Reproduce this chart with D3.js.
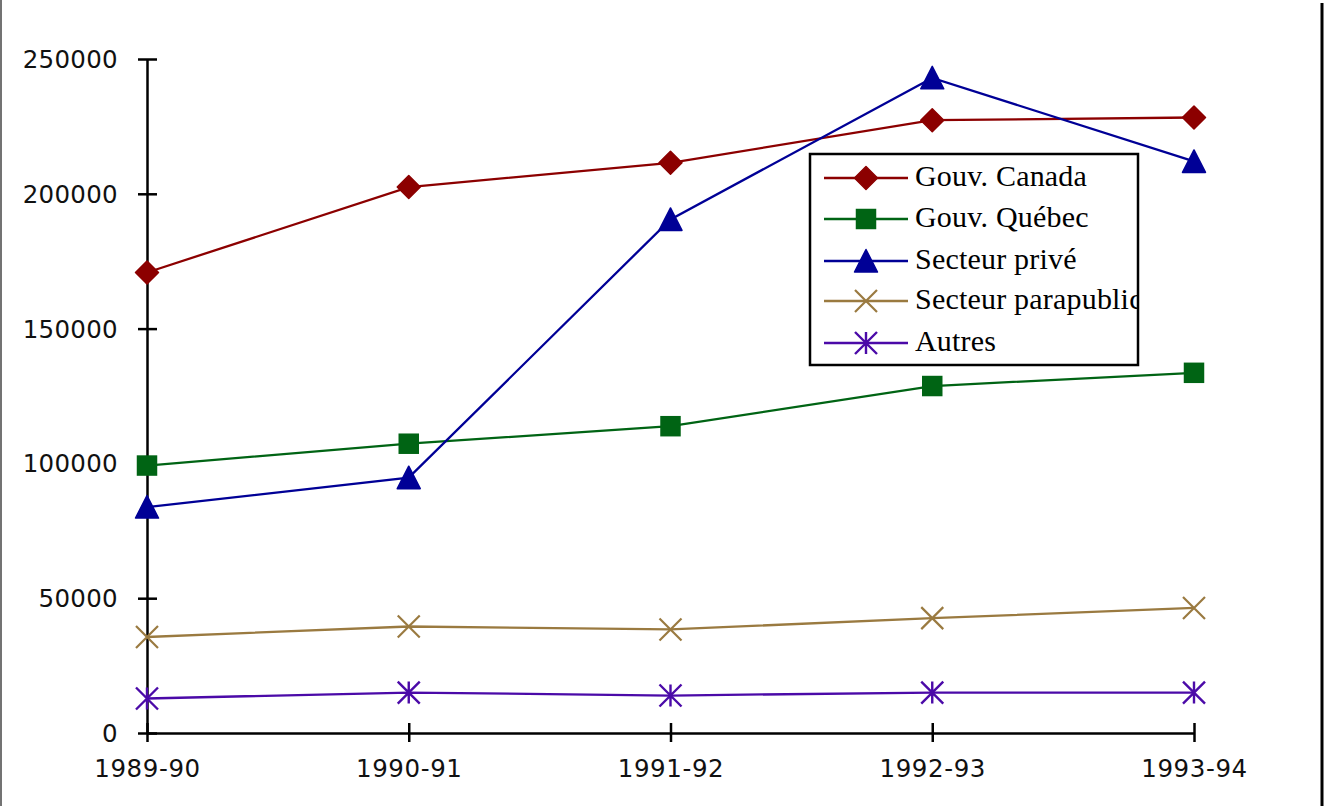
<!DOCTYPE html>
<html>
<head>
<meta charset="utf-8">
<script src="https://cdn.jsdelivr.net/npm/d3@7"></script>
<style>
  html, body { margin: 0; padding: 0; background: #fff; }
  svg { display: block; }
</style>
</head>
<body>
<svg id="chart" width="1325" height="806"></svg>
<script>
// ---- data ----
const categories = ["1989-90", "1990-91", "1991-92", "1992-93", "1993-94"];
const gouvCanada = [170800, 202500, 211500, 227300, 228300];
const gouvQuebec = [99200, 107300, 113800, 128700, 133600];
const secteurPrive = [83800, 94700, 190500, 243000, 212000];
const secteurParapublic = [35600, 39500, 38400, 42600, 46400];
const autres = [12800, 15000, 13900, 15000, 15000];
const yTicks = [0, 50000, 100000, 150000, 200000, 250000];
const seriesNames = ["Gouv. Canada", "Gouv. Québec", "Secteur privé", "Secteur parapublic", "Autres"];

const series = [
  { name: seriesNames[0], values: gouvCanada, color: "#8c0000", marker: "diamond" },
  { name: seriesNames[1], values: gouvQuebec, color: "#006414", marker: "square" },
  { name: seriesNames[2], values: secteurPrive, color: "#000096", marker: "triangle" },
  { name: seriesNames[3], values: secteurParapublic, color: "#9a7a40", marker: "cross" },
  { name: seriesNames[4], values: autres, color: "#4b0aa8", marker: "asterisk" }
];

const svg = d3.select("#chart");

// frame
svg.append("line").attr("x1", 1).attr("x2", 1).attr("y1", 0).attr("y2", 806)
  .attr("stroke", "#444").attr("stroke-width", 1.5);
svg.append("line").attr("x1", 1322).attr("x2", 1322).attr("y1", 3).attr("y2", 806)
  .attr("stroke", "#000").attr("stroke-width", 3);

const x = d3.scalePoint().domain(categories).range([147, 1194]);
const y = d3.scaleLinear().domain([0, 250000]).range([733, 59]);

const axisFont = "'DejaVu Sans', Verdana, sans-serif";

// y axis
const yAxis = svg.append("g").attr("transform", "translate(147,0)")
  .call(d3.axisLeft(y).tickValues(yTicks).tickFormat(d3.format("d")).tickSizeInner(9).tickSizeOuter(0).tickPadding(20));
yAxis.select(".domain").attr("stroke", "#000").attr("stroke-width", 2.5);
yAxis.selectAll(".tick line").attr("stroke", "#000").attr("stroke-width", 2.5).attr("x2", 10).attr("x1", -9);
yAxis.selectAll(".tick text").attr("font-family", axisFont).attr("font-size", 24.5).attr("fill", "#111")
  .attr("x", -29).attr("dy", "0.35em").attr("letter-spacing", 0.3);

// x axis
const xAxis = svg.append("g").attr("transform", "translate(0,733)")
  .call(d3.axisBottom(x).tickSizeInner(9).tickSizeOuter(0).tickPadding(20));
xAxis.select(".domain").attr("stroke", "#000").attr("stroke-width", 2.5);
xAxis.selectAll(".tick line").attr("stroke", "#000").attr("stroke-width", 2.5).attr("y1", -10).attr("y2", 9);
xAxis.selectAll(".tick text").attr("font-family", axisFont).attr("font-size", 24.5).attr("fill", "#111")
  .attr("y", 35).attr("dy", "0.35em").attr("letter-spacing", 0.6);

// markers
function drawMarker(g, type, color) {
  if (type === "diamond") {
    g.append("path").attr("d", d3.symbol().type(d3.symbolSquare).size(265)()).attr("transform", "rotate(45)")
      .attr("fill", color).attr("stroke", color).attr("stroke-width", 1.5).attr("stroke-linejoin", "round");
  } else if (type === "square") {
    g.append("path").attr("d", d3.symbol().type(d3.symbolSquare).size(420)()).attr("fill", color);
  } else if (type === "triangle") {
    g.append("path").attr("d", "M0,-11.5L11.5,11L-11.5,11Z").attr("fill", color)
      .attr("stroke", color).attr("stroke-width", 1.5).attr("stroke-linejoin", "round");
  } else if (type === "cross") {
    g.append("path").attr("d", "M-11,-11L11,11M-11,11L11,-11").attr("stroke", color).attr("stroke-width", 2.2).attr("fill", "none");
  } else if (type === "asterisk") {
    g.append("path").attr("d", "M-11,-11L11,11M-11,11L11,-11M0,-11L0,11").attr("stroke", color).attr("stroke-width", 2.4).attr("fill", "none");
  }
}

const line = d3.line().x((d, i) => x(categories[i])).y(d => y(d));

series.forEach(s => {
  svg.append("path").datum(s.values).attr("d", line)
    .attr("fill", "none").attr("stroke", s.color).attr("stroke-width", 2.3);
});
series.forEach(s => {
  s.values.forEach((v, i) => {
    const g = svg.append("g").attr("transform", `translate(${x(categories[i])},${y(v)})`);
    drawMarker(g, s.marker, s.color);
  });
});

// legend
const lg = svg.append("g");
const lx0 = 810, ly0 = 154, lw = 328, lh = 211;
svg.append("defs").append("clipPath").attr("id", "lclip")
  .append("rect").attr("x", lx0).attr("y", ly0).attr("width", lw - 1).attr("height", lh);
lg.append("rect").attr("x", lx0).attr("y", ly0).attr("width", lw).attr("height", lh)
  .attr("fill", "#fff").attr("stroke", "#000").attr("stroke-width", 2.5);
const rowY = [178, 219, 261, 301, 343];
series.forEach((s, i) => {
  const yy = rowY[i];
  lg.append("line").attr("x1", 824).attr("x2", 908).attr("y1", yy).attr("y2", yy)
    .attr("stroke", s.color).attr("stroke-width", 2.3);
  const g = lg.append("g").attr("transform", `translate(866,${yy})`);
  drawMarker(g, s.marker, s.color);
  lg.append("text").attr("x", 915).attr("y", yy + 8).text(s.name)
    .attr("font-family", "'Liberation Serif', 'Times New Roman', serif").attr("font-size", 30)
    .attr("letter-spacing", 0.2)
    .attr("fill", "#000").attr("clip-path", "url(#lclip)");
});
</script>
</body>
</html>
